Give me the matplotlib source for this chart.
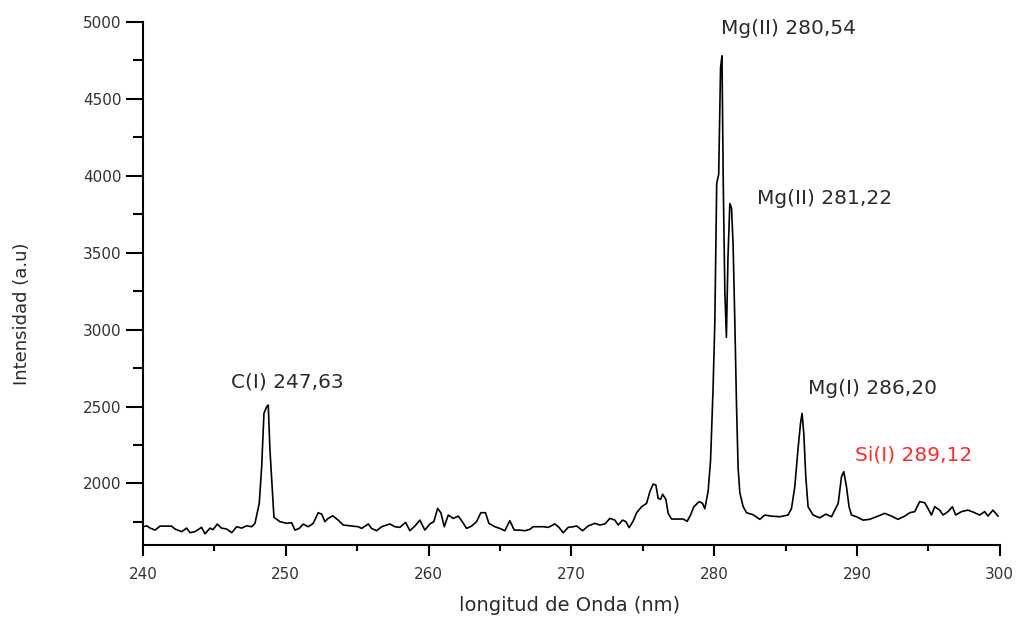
import numpy as np
import matplotlib
matplotlib.use("Agg")
import matplotlib.pyplot as plt

# wavelength (nm) and intensity (a.u)
wl = [240.0, 240.26, 240.5, 240.84, 241.19, 242.0, 242.24, 242.71, 243.06, 243.29,
      243.64, 244.1, 244.34, 244.69, 244.9, 245.2, 245.5, 245.86, 246.21, 246.56,
      246.91, 247.26, 247.61, 247.84, 248.14, 248.31, 248.47, 248.66, 248.77, 248.89,
      249.08, 249.17, 249.59, 250.06, 250.41, 250.64, 250.94, 251.22, 251.57, 251.92,
      252.27, 252.51, 252.74, 252.97, 253.28, 253.67, 254.02, 254.49, 255.07, 255.31,
      255.78, 256.0, 256.36, 256.71, 257.29, 257.64, 257.99, 258.39, 258.69, 259.04,
      259.39, 259.74, 260.09, 260.37, 260.63, 260.86, 261.1, 261.38, 261.73, 262.08,
      262.36, 262.66, 263.01, 263.36, 263.66, 263.99, 264.22, 264.64, 264.99, 265.34,
      265.69, 266.0, 266.39, 266.74, 267.09, 267.33, 268.02, 268.38, 268.85, 269.13,
      269.43, 269.78, 270.13, 270.37, 270.79, 271.18, 271.65, 272.0, 272.35, 272.7,
      273.05, 273.28, 273.59, 273.82, 274.05, 274.33, 274.57, 274.92, 275.27, 275.5,
      275.73, 275.92, 276.08, 276.25, 276.39, 276.62, 276.78, 277.02, 277.37, 277.83,
      278.11, 278.35, 278.58, 278.95, 279.19, 279.35, 279.58, 279.75, 279.92, 280.05,
      280.18, 280.32, 280.45, 280.55, 280.64, 280.75, 280.86, 280.97, 281.1, 281.22,
      281.33, 281.45, 281.57, 281.68, 281.8, 282.03, 282.27, 282.73, 283.2, 283.55,
      284.0, 284.6, 285.18, 285.42, 285.65, 285.88, 286.05, 286.16, 286.28, 286.42,
      286.58, 286.93, 287.4, 287.82, 288.22, 288.69, 288.92, 289.08, 289.27, 289.45,
      289.62, 289.97, 290.43, 290.9, 291.48, 291.95, 292.42, 292.88, 293.35, 293.7,
      294.05, 294.4, 294.75, 294.98, 295.22, 295.45, 295.8, 296.03, 296.38, 296.69,
      296.92, 297.32, 297.78, 298.25, 298.6, 298.95, 299.18, 299.53, 299.88]
inten = [1719, 1725, 1710, 1697, 1723, 1723, 1704, 1687, 1710, 1680,
         1687, 1715, 1673, 1710, 1700, 1736, 1710, 1704, 1680, 1719,
         1710, 1725, 1719, 1741, 1871, 2109, 2456, 2499, 2510, 2218,
         1914, 1780, 1752, 1741, 1745, 1697, 1708, 1736, 1719, 1741,
         1810, 1801, 1752, 1773, 1790, 1762, 1730, 1725, 1719, 1708,
         1737, 1708, 1693, 1719, 1737, 1719, 1715, 1747, 1693, 1723,
         1762, 1697, 1737, 1752, 1838, 1810, 1719, 1795, 1773, 1788,
         1752, 1708, 1723, 1752, 1810, 1810, 1741, 1719, 1708, 1693,
         1758, 1697, 1697, 1693, 1702, 1719, 1719, 1715, 1737, 1715,
         1680, 1715, 1719, 1724, 1693, 1724, 1741, 1730, 1737, 1773,
         1762, 1730, 1762, 1752, 1713, 1756, 1810, 1849, 1871, 1947,
         1996, 1990, 1903, 1897, 1930, 1897, 1806, 1769, 1769, 1769,
         1754, 1795, 1849, 1882, 1871, 1836, 1950, 2150, 2600, 3050,
         3950, 4010, 4700, 4780, 3950, 3250, 2950, 3470, 3820, 3790,
         3550, 3050, 2500, 2100, 1940, 1850, 1810, 1797, 1767, 1795,
         1788, 1784, 1795, 1838, 1979, 2228, 2391, 2456, 2326, 2044,
         1849, 1795, 1777, 1801, 1784, 1871, 2044, 2077, 1979, 1849,
         1795, 1784, 1762, 1767, 1788, 1806, 1788, 1767, 1788, 1810,
         1817, 1882, 1875, 1838, 1795, 1849, 1827, 1795, 1817, 1849,
         1795, 1817, 1827, 1810, 1795, 1817, 1788, 1827, 1788]

labels = ["C(I) 247,63", "Mg(II) 280,54", "Mg(II) 281,22", "Mg(I) 286,20", "Si(I) 289,12"]
label_x = [250.08, 285.24, 287.7, 291.1, 294.0]
label_y = [2660, 4960, 3855, 2620, 2185]
label_col = ["#2b2b2b", "#2b2b2b", "#2b2b2b", "#2b2b2b", "#ff2a2a"]

fig = plt.figure(figsize=(10.18, 6.19), dpi=100)
ax = fig.add_axes([0.1405, 0.1195, 0.8415, 0.845])
ax.plot(wl, inten, color="black", lw=1.2)

for t, x, y, c in zip(labels, label_x, label_y, label_col):
    ax.text(x, y, t, color=c, fontsize=14.5, ha="center", va="center")

ax.set_xlim(240, 300)
ax.set_ylim(1600, 5000)
ax.set_xticks(np.arange(240, 301, 10))
ax.set_xticks(np.arange(245, 300, 10), minor=True)
ax.set_yticks(np.arange(2000, 5001, 500))
ax.set_yticks(np.arange(1750, 5000, 500), minor=True)
for s in ["top", "right"]:
    ax.spines[s].set_visible(False)
for s in ["left", "bottom"]:
    ax.spines[s].set_linewidth(1.5)
ax.tick_params(which="major", direction="out", length=8, width=1.5,
               labelsize=11, labelcolor="#333333")
ax.tick_params(which="minor", direction="out", length=4, width=1.5)
ax.tick_params(axis="y", which="major", length=12)
ax.tick_params(axis="y", which="minor", length=7)
ax.tick_params(axis="x", pad=8)

ax.set_xlabel("longitud de Onda (nm)", fontsize=14, color="#2b2b2b")
ax.set_ylabel("Intensidad (a.u)", fontsize=13, color="#2b2b2b")
ax.xaxis.label.set_va("center")
ax.yaxis.label.set_va("center")
ax.xaxis.set_label_coords(0.498, -0.115)
ax.yaxis.set_label_coords(-0.141, 0.443)

plt.savefig("out.png", dpi=100)
